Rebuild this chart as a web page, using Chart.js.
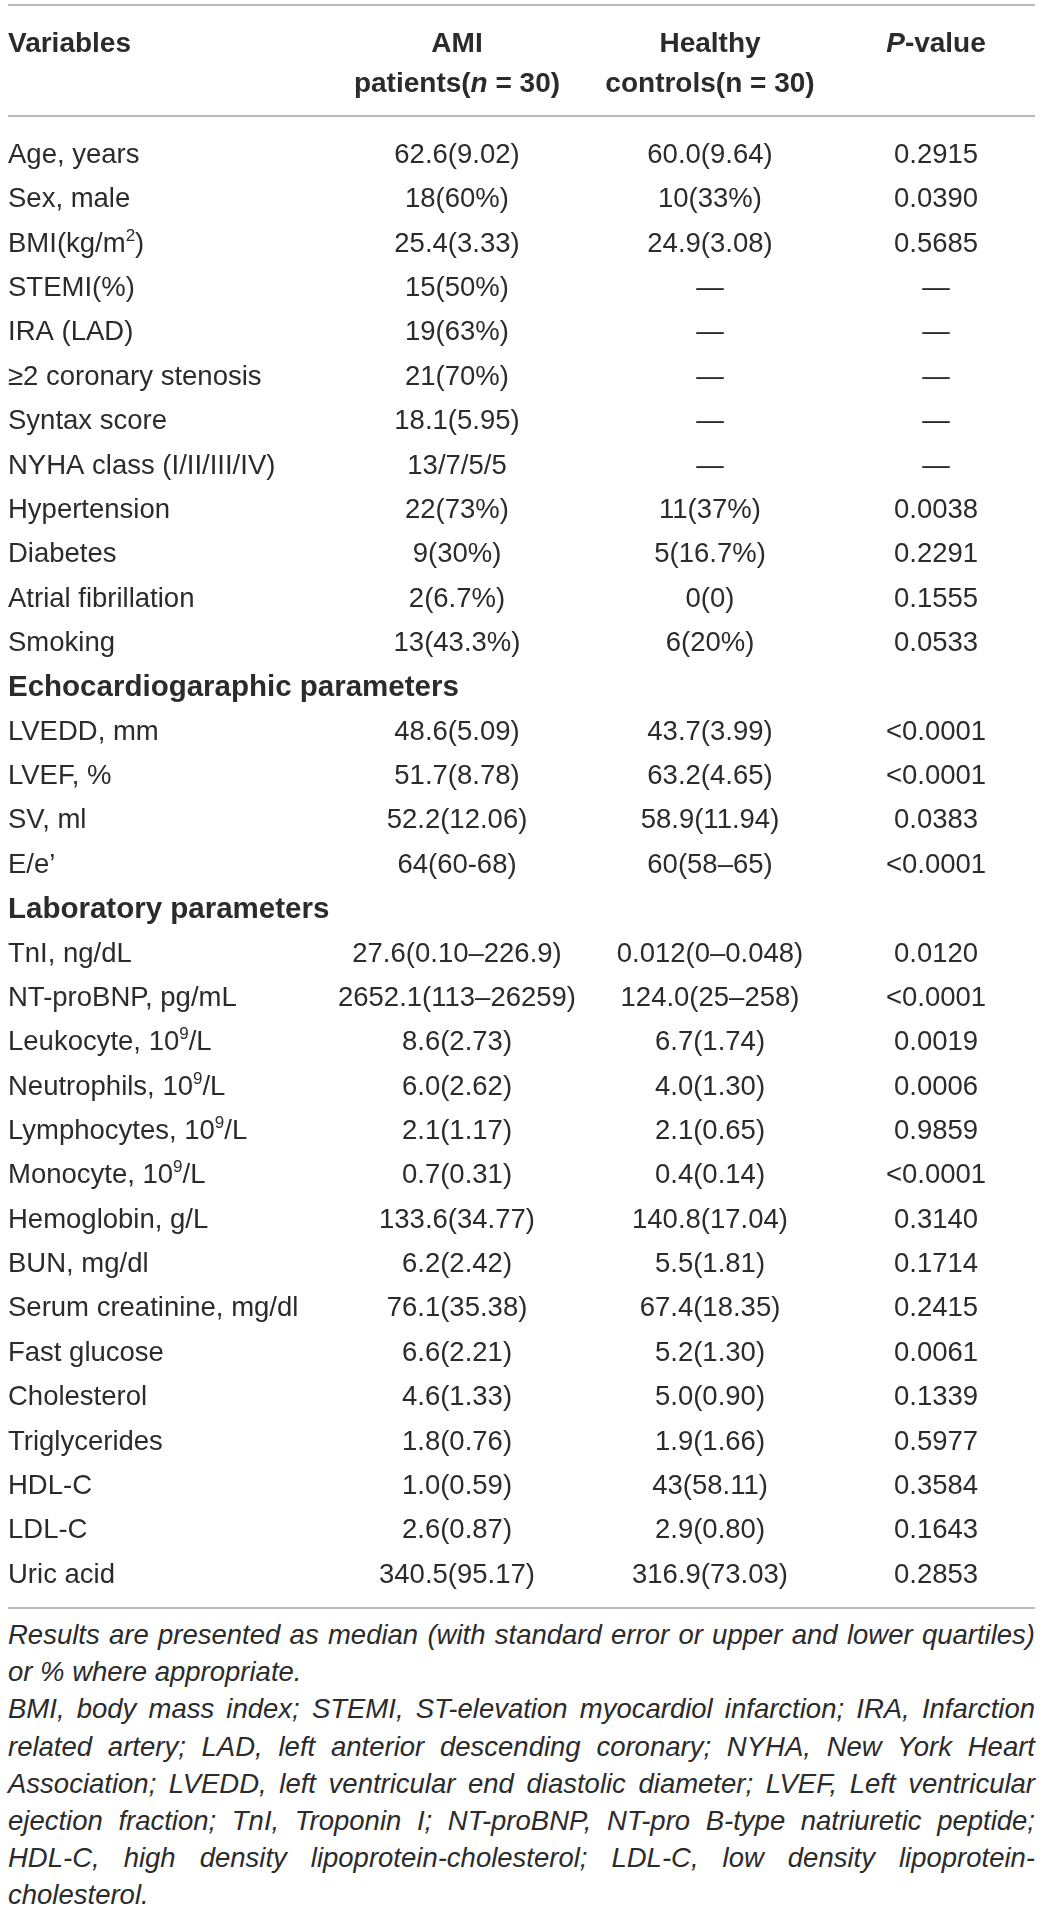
<!DOCTYPE html>
<html>
<head>
<meta charset="utf-8">
<script src="https://cdn.jsdelivr.net/npm/chart.js@4.4.1/dist/chart.umd.min.js"></script>
<style>
  html, body { margin: 0; padding: 0; background: #ffffff; }
  #wrap { position: relative; width: 1043px; height: 1914px; }
  #tbl { position: absolute; left: 0; top: 0; }
  #notes { position: absolute; left: 8px; top: 1616px; width: 1027px;
           font-family: "Liberation Sans", Arial, sans-serif; font-style: italic;
           font-size: 27.5px; line-height: 37.2px; color: #2b2b2b; }
  #notes .ln { white-space: nowrap; text-align: left; }
  #notes .ln.just { text-align: justify; text-align-last: justify; }
</style>
</head>
<body>
<div id="wrap">
  <canvas id="tbl" width="1043" height="1616"></canvas>
  <div id="notes">
    <div class="ln"><span>Results are presented as median (with standard error or upper and lower quartiles)</span></div>
    <div class="ln end"><span>or % where appropriate.</span></div>
    <div class="ln"><span>BMI, body mass index; STEMI, ST-elevation myocardiol infarction; IRA, Infarction</span></div>
    <div class="ln"><span>related artery; LAD, left anterior descending coronary; NYHA, New York Heart</span></div>
    <div class="ln"><span>Association; LVEDD, left ventricular end diastolic diameter; LVEF, Left ventricular</span></div>
    <div class="ln"><span>ejection fraction; TnI, Troponin I; NT-proBNP, NT-pro B-type natriuretic peptide;</span></div>
    <div class="ln"><span>HDL-C, high density lipoprotein-cholesterol; LDL-C, low density lipoprotein-</span></div>
    <div class="ln end"><span>cholesterol.</span></div>
  </div>
</div>
<script>
// ---------------- DATA ----------------
const columnHeaders = [
  ['**Variables**'],
  ['**AMI**', '**patients(*n* = 30)**'],
  ['**Healthy**', '**controls(n = 30)**'],
  ['***P*-value**']
];

const variables = [
  'Age, years', 'Sex, male', 'BMI(kg/m{2})', 'STEMI(%)', 'IRA (LAD)',
  '≥2 coronary stenosis', 'Syntax score', 'NYHA class (I/II/III/IV)',
  'Hypertension', 'Diabetes', 'Atrial fibrillation', 'Smoking',
  'Echocardiogaraphic parameters',
  'LVEDD, mm', 'LVEF, %', 'SV, ml', 'E/e’',
  'Laboratory parameters',
  'TnI, ng/dL', 'NT-proBNP, pg/mL', 'Leukocyte, 10{9}/L', 'Neutrophils, 10{9}/L',
  'Lymphocytes, 10{9}/L', 'Monocyte, 10{9}/L', 'Hemoglobin, g/L', 'BUN, mg/dl',
  'Serum creatinine, mg/dl', 'Fast glucose', 'Cholesterol', 'Triglycerides',
  'HDL-C', 'LDL-C', 'Uric acid'
];

const sectionRows = ['Echocardiogaraphic parameters', 'Laboratory parameters'];

const amiPatients = [
  '62.6(9.02)', '18(60%)', '25.4(3.33)', '15(50%)', '19(63%)',
  '21(70%)', '18.1(5.95)', '13/7/5/5',
  '22(73%)', '9(30%)', '2(6.7%)', '13(43.3%)',
  '',
  '48.6(5.09)', '51.7(8.78)', '52.2(12.06)', '64(60-68)',
  '',
  '27.6(0.10–226.9)', '2652.1(113–26259)', '8.6(2.73)', '6.0(2.62)',
  '2.1(1.17)', '0.7(0.31)', '133.6(34.77)', '6.2(2.42)',
  '76.1(35.38)', '6.6(2.21)', '4.6(1.33)', '1.8(0.76)',
  '1.0(0.59)', '2.6(0.87)', '340.5(95.17)'
];

const healthyControls = [
  '60.0(9.64)', '10(33%)', '24.9(3.08)', '—', '—',
  '—', '—', '—',
  '11(37%)', '5(16.7%)', '0(0)', '6(20%)',
  '',
  '43.7(3.99)', '63.2(4.65)', '58.9(11.94)', '60(58–65)',
  '',
  '0.012(0–0.048)', '124.0(25–258)', '6.7(1.74)', '4.0(1.30)',
  '2.1(0.65)', '0.4(0.14)', '140.8(17.04)', '5.5(1.81)',
  '67.4(18.35)', '5.2(1.30)', '5.0(0.90)', '1.9(1.66)',
  '43(58.11)', '2.9(0.80)', '316.9(73.03)'
];

const pValues = [
  '0.2915', '0.0390', '0.5685', '—', '—',
  '—', '—', '—',
  '0.0038', '0.2291', '0.1555', '0.0533',
  '',
  '<0.0001', '<0.0001', '0.0383', '<0.0001',
  '',
  '0.0120', '<0.0001', '0.0019', '0.0006',
  '0.9859', '<0.0001', '0.3140', '0.1714',
  '0.2415', '0.0061', '0.1339', '0.5977',
  '0.3584', '0.1643', '0.2853'
];

// ---------------- LAYOUT / STYLE ----------------
const FONT = '"Liberation Sans", Arial, Helvetica, sans-serif';
const TEXT_COLOR = '#2b2b2b';
const RULE_COLOR = '#a3a3a3';
const FONT_SIZE = 27.5;
const HEADER_SIZE = 28;
const SECTION_SIZE = 29.5;
const COLUMN_POS = [8, 457, 710, 936];      // x anchor of each column (px on the x scale)
const COLUMN_ALIGN = ['left', 'center', 'center', 'center'];
const HEADER_LINE_Y = [42, 82];
const RULES_Y = [5, 116, 1608];

// rich text: **bold**, *italic*, {superscript}
function parseRich(str) {
  const segs = [];
  let bold = false, it = false, sup = false, buf = '';
  const push = () => { if (buf) segs.push({ t: buf, bold, it, sup }); buf = ''; };
  for (let i = 0; i < str.length; i++) {
    const c = str[i];
    if (c === '*' && str[i + 1] === '*') { push(); bold = !bold; i++; }
    else if (c === '*') { push(); it = !it; }
    else if (c === '{') { push(); sup = true; }
    else if (c === '}') { push(); sup = false; }
    else buf += c;
  }
  push();
  return segs;
}

function drawRich(ctx, str, x, yCenter, align, size, forceBold) {
  const segs = parseRich(str);
  const fontOf = s => `${s.it ? 'italic ' : ''}${(s.bold || forceBold) ? 'bold ' : ''}${s.sup ? Math.round(size * 0.62) : size}px ${FONT}`;
  let w = 0;
  segs.forEach(s => { ctx.font = fontOf(s); s.w = ctx.measureText(s.t).width; w += s.w; });
  let cx = align === 'left' ? x : (align === 'right' ? x - w : x - w / 2);
  const baseline = yCenter + size * 0.358;
  ctx.textAlign = 'left';
  ctx.textBaseline = 'alphabetic';
  ctx.fillStyle = TEXT_COLOR;
  segs.forEach(s => {
    ctx.font = fontOf(s);
    ctx.fillText(s.t, cx, s.sup ? baseline - size * 0.4 : baseline);
    cx += s.w;
  });
}

const tablePlugin = {
  id: 'tableText',
  afterDatasetsDraw(chart) {
    const ctx = chart.ctx;
    const xs = chart.scales.x;
    ctx.save();
    ctx.strokeStyle = RULE_COLOR;
    ctx.lineWidth = 1.6;
    RULES_Y.forEach(y => {
      ctx.beginPath();
      ctx.moveTo(8, y);
      ctx.lineTo(1035, y);
      ctx.stroke();
    });
    columnHeaders.forEach((lines, c) => {
      const x = xs.getPixelForValue(COLUMN_POS[c]);
      lines.forEach((ln, k) => drawRich(ctx, ln, x, HEADER_LINE_Y[k], COLUMN_ALIGN[c], HEADER_SIZE));
    });
    chart.data.datasets.forEach((ds, di) => {
      const meta = chart.getDatasetMeta(di);
      meta.data.forEach((el, i) => {
        const txt = ds.cellText[i];
        if (!txt) return;
        const section = di === 0 && sectionRows.includes(variables[i]);
        drawRich(ctx, txt, el.x, el.y, ds.align, section ? SECTION_SIZE : FONT_SIZE, section);
      });
    });
    ctx.restore();
  }
};

const columnsText = [variables, amiPatients, healthyControls, pValues];

new Chart(document.getElementById('tbl'), {
  type: 'scatter',
  data: {
    labels: variables,
    datasets: columnsText.map((arr, c) => ({
      label: ['Variables', 'AMI patients', 'Healthy controls', 'P-value'][c],
      data: variables.map(v => ({ x: COLUMN_POS[c], y: v })),
      cellText: arr,
      align: COLUMN_ALIGN[c],
      pointRadius: 0,
      pointHoverRadius: 0,
      showLine: false
    }))
  },
  options: {
    responsive: false,
    animation: false,
    events: [],
    devicePixelRatio: 1,
    layout: { padding: { top: 131, bottom: 21, left: 0, right: 0 } },
    scales: {
      x: { type: 'linear', min: 0, max: 1043, display: false },
      y: { type: 'category', labels: variables, offset: true, display: false }
    },
    plugins: { legend: { display: false }, tooltip: { enabled: false } }
  },
  plugins: [tablePlugin]
});

// fit footnote lines into the column width, then justify the non-final lines
(function fitNotes() {
  const W = 1027;
  document.querySelectorAll('#notes .ln').forEach(ln => {
    const span = ln.querySelector('span');
    const w = span.getBoundingClientRect().width;
    const n = span.textContent.length;
    if (w > W) span.style.letterSpacing = (-(w - W + 1) / n).toFixed(3) + 'px';
    if (!ln.classList.contains('end')) ln.classList.add('just');
  });
})();
</script>
</body>
</html>
